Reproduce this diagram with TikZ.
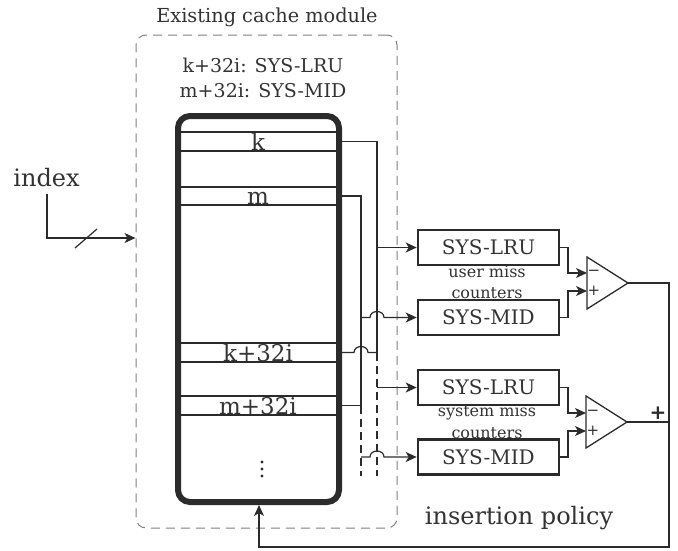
\documentclass[tikz,border=0pt]{standalone}
\usepackage{fontspec}
\setmainfont{DejaVu Serif}
\usetikzlibrary{arrows.meta}
\definecolor{ink}{HTML}{2B2B2B}
\definecolor{txt}{HTML}{333333}
\definecolor{frame}{HTML}{808080}
\tikzset{
  fs/.style={font=\fontsize{#1}{#1}\selectfont},
  wire/.style={draw=ink, line width=1.2pt},
  tip/.style={-{Stealth[length=11pt,width=10pt,inset=3pt]}},
  busdash/.style={wire, dash pattern=on 8pt off 5pt},
  rowbox/.style={draw=ink, line width=1.8pt, minimum width=161pt, minimum height=18.5pt, inner sep=0pt},
  rowtxt/.style={fs=23, text=txt, anchor=base, inner sep=0pt},
  cachebox/.style={draw=ink, line width=6pt, rounded corners=12pt, minimum width=161pt, minimum height=386pt, inner sep=0pt},
  ctrbox/.style={draw=ink, line width=2.6pt, minimum width=141pt, minimum height=35pt, inner sep=0pt, fs=20, text=txt},
  note/.style={fs=16, text=txt, inner sep=0pt},
  amp/.style={draw=ink, line width=1.3pt, line join=miter},
  sign/.style={fs=15, text=ink, inner sep=0pt},
}
\begin{document}
\begin{tikzpicture}[x=1pt, y=-1pt]
\useasboundingbox (0,0) rectangle (678,550);

% module outline and its captions
\node[draw=frame, line width=1pt, dash pattern=on 9pt off 6pt, rounded corners=10pt,
      minimum width=261pt, minimum height=493pt, inner sep=0pt] (ecm) at (266.5,281.5) {};
\node[fs=19.3, text=txt, anchor=base] (title) at (267,22) {Existing cache module};
\node[fs=19, text=txt, anchor=base] (map1) at (263,72) {k+32i: SYS-LRU};
\node[fs=19, text=txt, anchor=base] (map2) at (263,97) {m+32i: SYS-MID};

% cache rows
\node[rowbox] (rk)  at (258.5,141.5) {};
\node[rowbox] (rm)  at (258.5,196) {};
\node[rowbox] (rk2) at (258.5,352.5) {};
\node[rowbox] (rm2) at (258.5,405.5) {};
\node[rowtxt] (lk)  at (258,150) {k};
\node[rowtxt] (lm)  at (258,204) {m};
\node[rowtxt] (lk2) at (258,361) {k+32i};
\node[rowtxt] (lm2) at (258,414) {m+32i};
\foreach \yy in {462,469,476} \fill[ink] (262,\yy) circle (1.6pt);

% cache array
\node[cachebox] (cache) at (258.5,309) {};

% index input
\node[fs=24, text=txt, anchor=base] (idx) at (46.5,186) {index};
\coordinate (ibend) at (47,238);
\draw[wire, tip] (47,194) -- (ibend) -- (ecm.west |- ibend);
\draw[wire] (75,248) -- (97,229);

% counters
\node[ctrbox] (lru1) at (488.5,247.5) {SYS-LRU};
\node[ctrbox] (mid1) at (488.5,317.5) {SYS-MID};
\node[ctrbox] (lru2) at (488.5,387.5) {SYS-LRU};
\node[ctrbox] (mid2) at (488.5,457) {SYS-MID};
\node[note] (u1) at (487,272) {user miss};
\node[note] (u2) at (487,293) {counters};
\node[note] (s1) at (487,412) {system miss};
\node[note] (s2) at (487,433) {counters};

% buses from the cache rows
\coordinate (kbus) at (377,0);
\coordinate (mbus) at (361,0);
\coordinate (bend) at (0,476);
\draw[wire] (cache.east |- rk) -- (kbus |- rk) -- (kbus |- rk2);
\draw[wire] (cache.east |- rm) -- (mbus |- rm) -- (mbus |- rm2);
\draw[wire] (cache.east |- rk2) -- (354,352.5) .. controls (354,344.5) and (368,344.5) .. (368,352.5) -- (kbus |- rk2);
\draw[wire] (cache.east |- rm2) -- (mbus |- rm2);
\draw[busdash] (kbus |- rk2) -- (kbus |- bend);
\draw[busdash] (mbus |- rm2) -- (mbus |- bend);

\draw[wire, tip] (kbus |- lru1) -- (lru1.west);
\draw[wire, tip] (mbus |- mid1) -- (370,317.5) .. controls (370,309.5) and (384,309.5) .. (384,317.5) -- (mid1.west);
\draw[wire, tip] (kbus |- lru2) -- (lru2.west);
\draw[wire, tip] (mbus |- mid2) -- (370,457) .. controls (370,449) and (384,449) .. (384,457) -- (mid2.west);

% comparators
\coordinate (a1n) at (587,273);
\coordinate (a1p) at (587,291);
\coordinate (a1o) at (628,283);
\draw[amp] (587,257) -- (a1o) -- (587,309) -- cycle;
\coordinate (a2n) at (586,413);
\coordinate (a2p) at (586,431);
\coordinate (a2o) at (627,422);
\draw[amp] (586,396) -- (a2o) -- (586,448) -- cycle;
\node[sign] (m1) at (594,273) {−};
\node[sign] (p1) at (594,291) {+};
\node[sign] (m2) at (593,413) {−};
\node[sign] (p2) at (593,431) {+};

\coordinate (jx) at (568,0);
\draw[wire, tip] (lru1.east) -- (jx |- lru1) -- (jx |- a1n) -- (a1n);
\draw[wire, tip] (mid1.east) -- (jx |- mid1) -- (jx |- a1p) -- (a1p);
\draw[wire, tip] (lru2.east) -- (jx |- lru2) -- (jx |- a2n) -- (a2n);
\draw[wire, tip] (mid2.east) -- (jx |- mid2) -- (jx |- a2p) -- (a2p);

% feedback to the cache
\coordinate (rx) at (669,0);
\coordinate (fb) at (669,547);
\draw[wire, tip] (a1o) -- (rx |- a1o) -- (fb) -- (259,547) -- (259,0 |- cache.south);
\draw[wire] (a2o) -- (rx |- a2o);
\node[fs=20, text=ink, inner sep=0pt] (sum) at (658,413) {\bfseries +};

\node[fs=24, text=txt, anchor=base] (pol) at (519,524) {insertion policy};
\end{tikzpicture}
\end{document}
